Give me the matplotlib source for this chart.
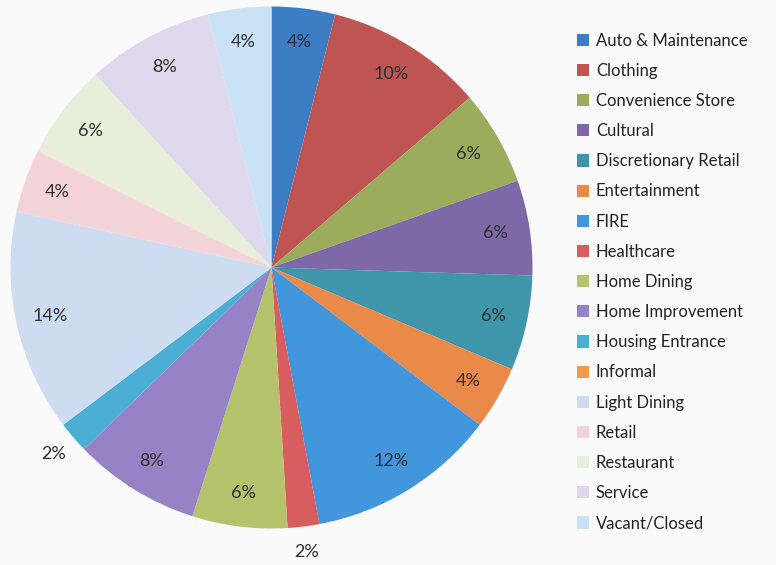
import matplotlib
matplotlib.use("Agg")
import matplotlib.pyplot as plt
from matplotlib.patches import Patch
import numpy as np

categories = [
    "Auto & Maintenance", "Clothing", "Convenience Store", "Cultural",
    "Discretionary Retail", "Entertainment", "FIRE", "Healthcare",
    "Home Dining", "Home Improvement", "Housing Entrance", "Informal",
    "Light Dining", "Retail", "Restaurant", "Service", "Vacant/Closed",
]
shares = [4, 10, 6, 6, 6, 4, 12, 2, 6, 8, 2, 0, 14, 4, 6, 8, 4]
colors = [
    "#3c7dc3", "#be5552", "#9bad5c", "#7f68a8",
    "#3f95aa", "#ea8a48", "#4296db", "#d85d5f",
    "#b5c46c", "#9682c4", "#4aaed5", "#f09a50",
    "#cedcf2", "#f2d3d7", "#e8eed9", "#ddd8ec", "#c9e1f4",
]

plt.rcParams["font.family"] = ["Lato", "DejaVu Sans"]

W, H = 776, 565
fig = plt.figure(figsize=(W / 100, H / 100), dpi=100)
fig.patch.set_facecolor("#fafafa")

cx, cy, r = 271.5, 267.5, 261
ax = fig.add_axes([(cx - r) / W, (H - cy - r) / H, 2 * r / W, 2 * r / H])
ax.set_facecolor("none")

wedges, _ = ax.pie(
    shares, colors=colors, startangle=90, counterclock=False,
    radius=1.0, wedgeprops=dict(linewidth=0),
)
ax.set_xlim(-1, 1)
ax.set_ylim(-1, 1)
ax.set_aspect("equal")
ax.axis("off")

# percentage labels: inside the wedge, or just outside for thin slices
for w, v in zip(wedges, shares):
    if v == 0:
        continue
    mid = np.deg2rad((w.theta1 + w.theta2) / 2)
    dist = 1.10 if v <= 2 else 0.87
    ax.text(dist * np.cos(mid), dist * np.sin(mid), f"{v}%",
            ha="center", va="center", fontsize=13, color="#2e2e2e")

handles = [Patch(facecolor=c, edgecolor="none") for c in colors]
fig.legend(
    handles, categories, loc="upper left",
    bbox_to_anchor=(570 / W, 1 - 26 / H), frameon=False,
    fontsize=12, handlelength=0.75, handleheight=0.75,
    handletextpad=0.4, labelspacing=0.85, borderaxespad=0,
    labelcolor="#222222",
)

fig.savefig("out.png", dpi=100, facecolor=fig.get_facecolor())
